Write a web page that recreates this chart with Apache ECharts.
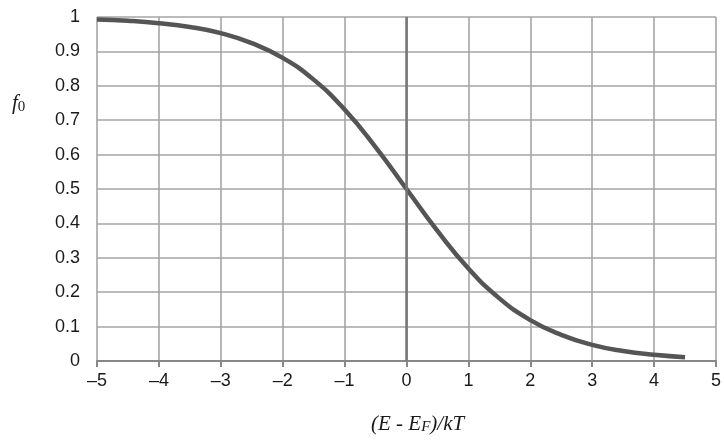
<!DOCTYPE html>
<html>
<head>
<meta charset="utf-8">
<script src="https://cdn.jsdelivr.net/npm/echarts@6/dist/echarts.min.js"></script>
<style>html,body{margin:0;padding:0;background:#fff}#c{width:724px;height:441px}</style>
</head>
<body>
<div id="c"></div>
<script>
const xValues = [-5,-4.5,-4,-3.5,-3,-2.5,-2,-1.5,-1,-0.5,0,0.5,1,1.5,2,2.5,3,3.5,4,4.5];
const f0Values = [0.993,0.989,0.982,0.971,0.953,0.924,0.881,0.818,0.731,0.622,0.5,0.378,0.269,0.182,0.119,0.076,0.047,0.029,0.018,0.011];
const xTicks = [-5,-4,-3,-2,-1,0,1,2,3,4,5];
const yTicks = [0,0.1,0.2,0.3,0.4,0.5,0.6,0.7,0.8,0.9,1];

const chart = echarts.init(document.getElementById('c'));
const labelFont = {color:'#1a1a1a', fontSize:18, fontFamily:'Liberation Sans, Arial, sans-serif'};
const serif = 'Liberation Serif, Times New Roman, serif';
chart.setOption({
  animation:false,
  grid:{left:97, right:3, top:17, bottom:80},
  xAxis:{
    type:'value', min:-5, max:5, interval:1,
    axisLine:{show:true, onZero:false, lineStyle:{color:'#888', width:2}},
    axisTick:{show:true, length:6, lineStyle:{color:'#888', width:2}},
    axisLabel:Object.assign({margin:11, formatter:v => (v<0 ? '\u2013'+Math.abs(v) : String(v))}, labelFont),
    splitLine:{show:true, lineStyle:{color:'#a5a5a5', width:1.6}}
  },
  yAxis:{
    type:'value', min:0, max:1, interval:0.1,
    axisLine:{show:true, lineStyle:{color:'#a5a5a5', width:1.6}},
    axisTick:{show:false},
    axisLabel:Object.assign({margin:17, formatter:v => String(Math.round(v*10)/10)}, labelFont),
    splitLine:{show:true, lineStyle:{color:'#a5a5a5', width:1.6}}
  },
  series:[{
    type:'line',
    data:xValues.map((x,i)=>[x,f0Values[i]]),
    smooth:true, showSymbol:false,
    lineStyle:{color:'#555', width:4.5},
    markLine:{
      silent:true, symbol:['none','none'], label:{show:false},
      lineStyle:{color:'#777', width:2.5, type:'solid'},
      data:[{xAxis:0}]
    },
    z:3
  }],
  graphic:[
    {type:'text', left:371, top:414, style:{
      text:'{i|(E - E}{s|F}{i|)/kT}',
      rich:{
        i:{fontFamily:serif, fontStyle:'italic', fontSize:21, fill:'#1a1a1a'},
        s:{fontFamily:serif, fontStyle:'italic', fontSize:15, fill:'#1a1a1a', padding:[6,0,0,0]}
      }}},
    {type:'text', left:12, top:93, style:{
      text:'{i|f}{s|0}',
      rich:{
        i:{fontFamily:serif, fontStyle:'italic', fontSize:21, fill:'#1a1a1a'},
        s:{fontFamily:serif, fontSize:15, fill:'#1a1a1a', padding:[7,0,0,0]}
      }}}
  ]
});
</script>
</body>
</html>
